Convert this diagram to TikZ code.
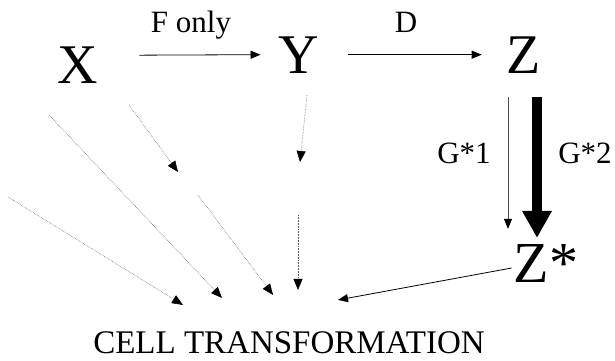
\documentclass[tikz,border=0pt]{standalone}
\usepackage{fontspec}
\setmainfont{Liberation Serif}
\usetikzlibrary{arrows.meta}

\tikzset{
  big/.style={inner sep=0pt, anchor=base, font=\fontsize{56}{60}\selectfont},
  lab/.style={inner sep=0pt, anchor=base, font=\fontsize{31}{34}\selectfont},
  arr/.style={line width=0.8pt, -{Triangle[length=10pt,width=8pt]}},
  faint/.style={draw=black!65, line width=0.55pt, densely dotted,
    -{Triangle[length=11pt,width=9pt,color=black]}},
  thick arr/.style={line width=9.5pt, -{Triangle[length=27pt,width=28pt]}}
}

\begin{document}
\begin{tikzpicture}[x=1pt,y=-1pt]
        \useasboundingbox (0,0) rectangle (615,360);
        \node[big] (X) at (78,83) {X};
        \node[big] (Y) at (299,73) {Y};
        \node[big] (Z) at (524,73) {Z};
        \node[big, font=\fontsize{58}{62}\selectfont] (Zs) at (546,282) {Z*};
        \node[inner sep=0pt, anchor=base, font=\fontsize{33}{36}\selectfont] (cell) at (289,353) {CELL TRANSFORMATION};
        \node[lab] (fonly) at (191,32) {F only};
        \node[lab] (d) at (406,32) {D};
        \node[lab] (g1) at (464,163) {G*1};
        \node[lab] (g2) at (585,163) {G*2};
        \draw[arr] ([xshift=41pt,yshift=9.5pt]X.east) -- ([xshift=-18pt]Y.west);
        \draw[arr] ([xshift=29pt]Y.east) -- ([xshift=-25pt]Z.west);
        \draw[draw=black!70, line width=0.6pt, -{Triangle[length=10pt,width=8pt,color=black]}]
            ([xshift=-16pt,yshift=-24pt]Z.south) -- ([xshift=-38pt,yshift=15pt]Zs.north);
        \draw[thick arr] ([xshift=13pt,yshift=-24pt]Z.south) -- ([xshift=-9pt,yshift=6pt]Zs.north);
        \draw[arr] ([xshift=-2pt,yshift=-5pt]Zs.west) -- ([xshift=49pt,yshift=31pt]cell.north);
        % loose ends of the faint arrows
        \coordinate (s1) at (8,197);
        \coordinate (s2) at (49,115);
        \coordinate (s3) at (129,105);
        \coordinate (e3) at (178,172);
        \coordinate (s4) at (198,195);
        \coordinate (s5) at (298,215);
        \coordinate (e6) at (300,162);
        \draw[faint] (s1) -- ([xshift=-106pt,yshift=26pt]cell.north);
        \draw[faint] (s2) -- ([xshift=-67pt,yshift=33pt]cell.north);
        \draw[faint] (s3) -- (e3);
        \draw[faint] (s4) -- ([xshift=-16pt,yshift=36pt]cell.north);
        \draw[faint] (s5) -- ([xshift=9pt,yshift=41pt]cell.north);
        \draw[faint] ([xshift=8pt,yshift=-22pt]Y.south) -- (e6);
\end{tikzpicture}
\end{document}
